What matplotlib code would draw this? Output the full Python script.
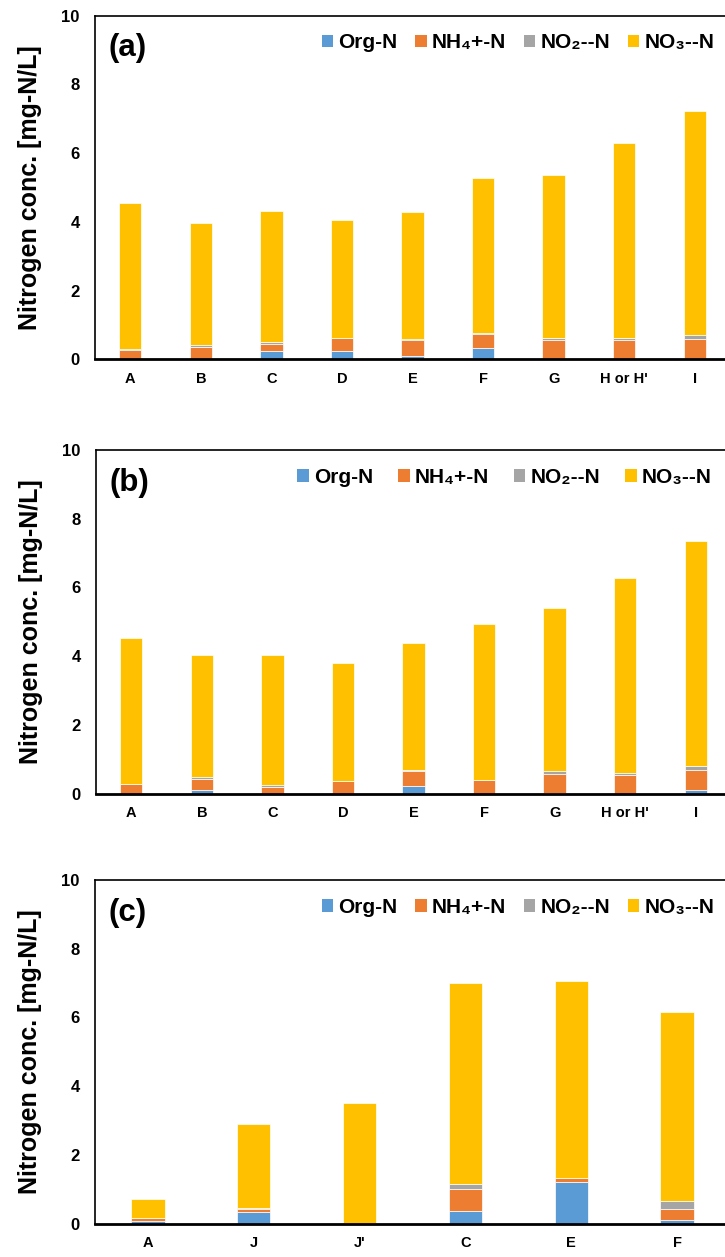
import matplotlib
matplotlib.use("Agg")
import matplotlib.pyplot as plt
from matplotlib.patches import Patch

plt.rcParams['font.family'] = ['Liberation Sans', 'DejaVu Sans']
plt.rcParams['font.weight'] = 'bold'

# ---------------- data ----------------
cats_a = ['A', 'B', 'C', 'D', 'E', 'F', 'G', "H or H'", 'I']
org_a = [0.00, 0.00, 0.25, 0.25, 0.11, 0.33, 0.00, 0.00, 0.00]
nh4_a = [0.28, 0.35, 0.20, 0.37, 0.46, 0.42, 0.55, 0.55, 0.58]
no2_a = [0.01, 0.07, 0.06, 0.01, 0.01, 0.01, 0.07, 0.08, 0.12]
no3_a = [4.25, 3.55, 3.80, 3.41, 3.71, 4.52, 4.74, 5.66, 6.53]

cats_b = ['A', 'B', 'C', 'D', 'E', 'F', 'G', "H or H'", 'I']
org_b = [0.00, 0.10, 0.00, 0.00, 0.22, 0.00, 0.02, 0.00, 0.11]
nh4_b = [0.28, 0.34, 0.19, 0.37, 0.45, 0.40, 0.54, 0.53, 0.59]
no2_b = [0.01, 0.06, 0.07, 0.01, 0.01, 0.01, 0.09, 0.08, 0.12]
no3_b = [4.24, 3.54, 3.77, 3.41, 3.70, 4.52, 4.76, 5.68, 6.52]

cats_c = ['A', 'J', "J'", 'C', 'E', 'F']
org_c = [0.08, 0.33, 0.00, 0.37, 1.20, 0.10]
nh4_c = [0.07, 0.09, 0.00, 0.62, 0.12, 0.33]
no2_c = [0.01, 0.02, 0.00, 0.155, 0.01, 0.22]
no3_c = [0.56, 2.47, 3.51, 5.85, 5.74, 5.52]

series_names = ['Org-N', 'NH\u2084+-N', 'NO\u2082--N', 'NO\u2083--N']
colors = ['#5B9BD5', '#ED7D31', '#A5A5A5', '#FFC000']
yticks = [0, 2, 4, 6, 8, 10]
panel_labels = ['(a)', '(b)', '(c)']

W, H = 725, 1257
fig = plt.figure(figsize=(W / 100, H / 100), dpi=100)


def px_axes(left, top, bottom, right):
    return fig.add_axes([left / W, 1 - bottom / H, (right - left) / W, (bottom - top) / H])


panels = [
    (px_axes(95, 15.5, 359.3, 730), cats_a, [org_a, nh4_a, no2_a, no3_a], 0.357, 0.85),
    (px_axes(96, 450, 793.7, 731), cats_b, [org_b, nh4_b, no2_b, no3_b], 0.317, 1.2),
    (px_axes(95, 880, 1223.5, 730), cats_c, [org_c, nh4_c, no2_c, no3_c], 0.357, 0.85),
]

for k, (ax, cats, vals, legx, colsp) in enumerate(panels):
    x = list(range(len(cats)))
    bottom = [0.0] * len(cats)
    for name, v, c in zip(series_names, vals, colors):
        ax.bar(x, v, width=0.315, bottom=bottom, color=c, edgecolor='white',
               linewidth=0.5, label=name, zorder=2)
        bottom = [b + vv for b, vv in zip(bottom, v)]
    ax.set_xlim(-0.5, len(cats) - 0.5)
    ax.set_ylim(0, 10)
    ax.set_yticks(yticks)
    ax.set_yticklabels([str(t) for t in yticks], fontsize=12, fontweight='bold')
    ax.set_xticks(x)
    ax.set_xticklabels(cats, fontsize=10.5, fontweight='bold')
    ax.tick_params(axis='y', length=0, pad=11)
    ax.tick_params(axis='x', length=0, pad=9)
    for s in ax.spines.values():
        s.set_linewidth(1.2)
        s.set_color('black')
    ax.spines['bottom'].set_linewidth(2.0)
    ax.set_ylabel('Nitrogen conc. [mg-N/L]', fontsize=18, fontweight='bold', labelpad=14)
    ax.text(0.022, 0.905, panel_labels[k], transform=ax.transAxes, fontsize=22.5,
            fontweight='bold', ha='left', va='center')
    handles = [Patch(facecolor=c, edgecolor='none') for c in colors]
    ax.legend(handles, series_names, loc='center left', bbox_to_anchor=(legx, 0.921),
              ncol=4, frameon=False, prop={'weight': 'bold', 'size': 15},
              handlelength=0.55, handleheight=0.55, handletextpad=0.25,
              columnspacing=colsp, borderpad=0, borderaxespad=0)

fig.savefig('out.png', dpi=100)
